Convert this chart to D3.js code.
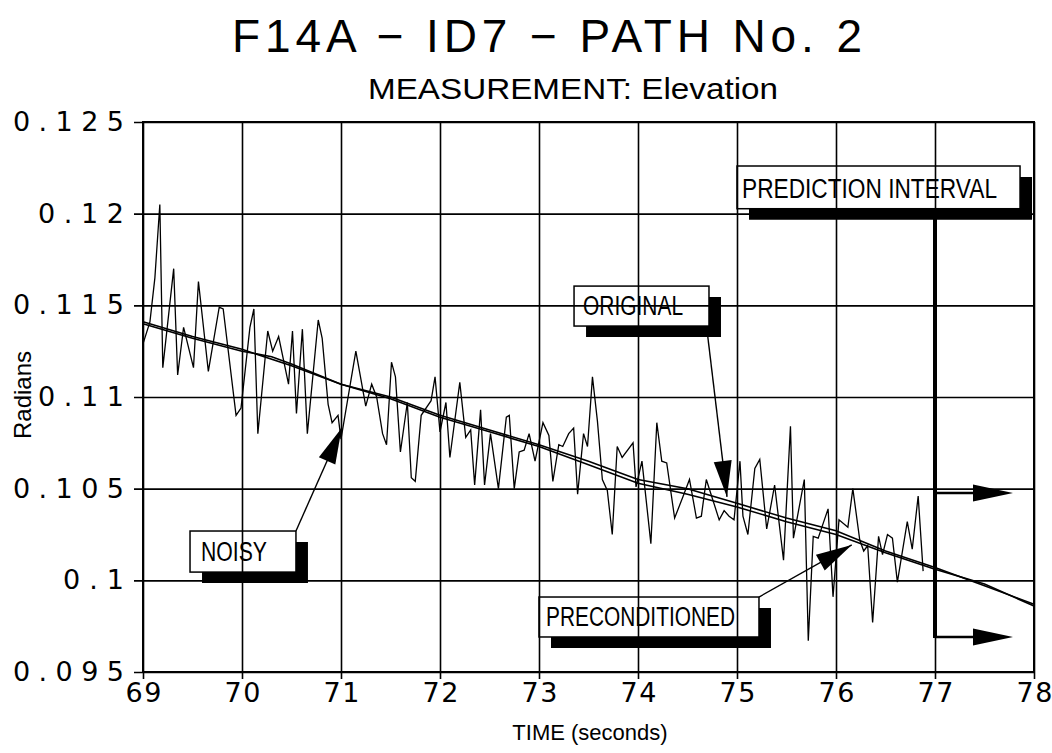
<!DOCTYPE html>
<html><head><meta charset="utf-8">
<script src="https://cdn.jsdelivr.net/npm/d3@7"></script>
<style>body{margin:0;background:#fff} svg{display:block}</style>
</head><body>
<script>
// ---------------- data ----------------
const titleText = "F14A \u2212 ID7 \u2212 PATH No. 2";
const subtitleText = "MEASUREMENT: Elevation";
const xLabelText = "TIME (seconds)";
const yLabelText = "Radians";

const xTicks = [69,70,71,72,73,74,75,76,77,78];
const yTicks = [0.095,0.1,0.105,0.11,0.115,0.12,0.125];
const yTickLabels = ["0.095","0.1","0.105","0.11","0.115","0.12","0.125"];

const noisyTime = [69.00,69.07,69.12,69.17,69.20,69.31,69.35,69.41,69.51,69.56,69.66,69.77,69.81,69.94,69.99,
70.08,70.12,70.16,70.26,70.31,70.37,70.47,70.51,70.55,70.61,70.66,70.77,70.81,70.87,70.91,70.97,
71.00,71.15,71.25,71.31,71.36,71.42,71.46,71.51,71.55,71.60,71.67,71.71,71.75,71.81,71.91,71.95,
72.00,72.06,72.10,72.20,72.26,72.31,72.35,72.41,72.45,72.51,72.59,72.67,72.70,72.75,72.80,72.85,72.90,72.96,
73.04,73.10,73.14,73.20,73.24,73.30,73.35,73.39,73.45,73.49,73.54,73.59,73.64,73.69,73.74,73.79,73.84,73.95,73.98,
74.04,74.13,74.19,74.24,74.29,74.37,74.45,74.52,74.59,74.64,74.69,74.82,74.87,74.92,74.97,
75.03,75.06,75.11,75.18,75.23,75.30,75.38,75.47,75.54,75.57,75.68,75.72,75.77,75.82,75.92,75.97,
76.03,76.12,76.17,76.24,76.28,76.32,76.37,76.43,76.47,76.52,76.57,76.62,76.72,76.77,76.83,76.88];
const noisyValue = [0.1129,0.1141,0.1165,0.1205,0.1116,0.1170,0.1112,0.1138,0.1116,0.1163,0.1114,0.1149,0.1148,0.1090,0.1094,
0.1138,0.1148,0.1080,0.1136,0.1125,0.1133,0.1107,0.1136,0.1091,0.1137,0.1080,0.1142,0.1132,0.1096,0.1086,0.1090,
0.1077,0.1125,0.1095,0.1107,0.1100,0.1080,0.1074,0.1119,0.1111,0.1070,0.1097,0.1056,0.1054,0.1090,0.1098,0.1111,
0.1081,0.1097,0.1067,0.1108,0.1078,0.1082,0.1052,0.1093,0.1052,0.1080,0.1050,0.1089,0.1090,0.1050,0.1070,0.1071,0.1080,0.1065,
0.1086,0.1079,0.1054,0.1074,0.1073,0.1080,0.1083,0.1047,0.1080,0.1073,0.1111,0.1087,0.1055,0.1049,0.1025,0.1073,0.1067,0.1075,0.1051,
0.1065,0.1020,0.1086,0.1065,0.1064,0.1034,0.1045,0.1055,0.1034,0.1035,0.1055,0.1033,0.1038,0.1035,0.1033,
0.1065,0.1035,0.1025,0.1061,0.1066,0.1028,0.1052,0.1011,0.1084,0.1023,0.1055,0.0967,0.1024,0.1023,0.1039,0.0991,
0.1033,0.1029,0.1050,0.1022,0.1016,0.1019,0.0977,0.1024,0.1014,0.1025,0.1023,0.0999,0.1032,0.1017,0.1046,0.1005];

const originalTime  = [69.0,69.5,70.0,70.5,71.0,71.5,72.0,72.5,73.0,73.5,74.0,74.5,75.0,75.5,76.0,76.5,77.0,77.5,78.0];
const originalValue = [0.1141,0.1133,0.1126,0.1117,0.1107,0.1100,0.1090,0.1082,0.1074,0.1065,0.1055,0.1050,0.1042,0.1034,0.1027,0.1016,0.1007,0.0997,0.0987];
const precondTime  = [69.0,69.5,70.0,70.3,70.5,71.0,71.5,72.0,72.5,73.0,73.5,74.0,74.5,75.0,75.5,76.0,76.5,77.0,77.5,78.0];
const precondValue = [0.1140,0.1132,0.1125,0.1122,0.1118,0.1107,0.1099,0.1089,0.1081,0.1073,0.1063,0.1053,0.1047,0.1040,0.1032,0.1025,0.1015,0.1006,0.0998,0.0986];

// annotation boxes (data units) and arrows
const boxLabels = ["NOISY","ORIGINAL","PRECONDITIONED","PREDICTION INTERVAL"];
const boxT0 = [69.475,73.354,73.0,75.0];
const boxT1 = [70.545,74.717,75.222,77.859];
const boxVTop = [0.10269,0.11605,0.09909,0.1226];
const boxVBot = [0.10045,0.11387,0.09691,0.12027];
const arrowFromT = [70.545,74.697,75.222];
const arrowFromV = [0.10269,0.11365,0.09909];
const arrowToT = [71.007,74.899,76.159];
const arrowToV = [0.10831,0.10455,0.10193];
const predLineT = 77;
const predTopV = 0.11976, predArrowV1 = 0.10476, predArrowV2 = 0.09691, predArrowTipT = 77.788;

// ---------------- layout ----------------
const W = 1052, H = 753;
const x = d3.scaleLinear().domain([69,78]).range([143,1034]);
const y = d3.scaleLinear().domain([0.095,0.125]).range([672,122]);
const FONT = "'Liberation Sans', Arial, sans-serif";
const TICKFONT = "'DejaVu Sans', sans-serif";

const svg = d3.select("body").append("svg").attr("width",W).attr("height",H)
  .style("font-family",FONT);

// grid + axes
const gx = svg.append("g").attr("transform",`translate(0,${y(0.095)})`)
  .call(d3.axisBottom(x).tickValues(xTicks).tickSize(-(y(0.095)-y(0.125))).tickFormat(d3.format("d")).tickPadding(4));
gx.select(".domain").remove();
gx.selectAll(".tick line").attr("y1",7).attr("stroke","#000").attr("stroke-width",1.6);
gx.selectAll(".tick text").attr("font-size",27).attr("fill","#000").attr("font-family",TICKFONT)
  .attr("dy","0.95em").attr("textLength",36).attr("lengthAdjust","spacing");

const gy = svg.append("g").attr("transform",`translate(${x(69)},0)`)
  .call(d3.axisLeft(y).tickValues(yTicks).tickSize(-(x(78)-x(69))).tickFormat((d,i)=>yTickLabels[i]).tickPadding(19));
gy.select(".domain").remove();
gy.selectAll(".tick line").attr("x1",-9).attr("stroke","#000").attr("stroke-width",1.6);
gy.selectAll(".tick text").attr("font-size",27).attr("fill","#000").attr("font-family",TICKFONT)
  .attr("textLength",(d,i)=>25*yTickLabels[i].length-14).attr("lengthAdjust","spacing");

// heavier frame edges
svg.append("rect").attr("x",x(69)).attr("y",y(0.125)).attr("width",x(78)-x(69)).attr("height",y(0.095)-y(0.125))
  .attr("fill","none").attr("stroke","#000").attr("stroke-width",2);

// lines
const line = d3.line().x(d=>x(d[0])).y(d=>y(d[1]));
svg.append("path").datum(noisyTime.map((t,i)=>[t,noisyValue[i]])).attr("d",line)
  .attr("fill","none").attr("stroke","#000").attr("stroke-width",1.3).attr("stroke-linejoin","miter");
svg.append("path").datum(originalTime.map((t,i)=>[t,originalValue[i]])).attr("d",line)
  .attr("fill","none").attr("stroke","#000").attr("stroke-width",1.6);
svg.append("path").datum(precondTime.map((t,i)=>[t,precondValue[i]])).attr("d",line)
  .attr("fill","none").attr("stroke","#000").attr("stroke-width",1.6);

// arrowhead helper
function arrowHead(g, x0,y0,x1,y1,L,w){
  const dx=x1-x0, dy=y1-y0, len=Math.hypot(dx,dy), ux=dx/len, uy=dy/len;
  const bx=x1-ux*L, by=y1-uy*L;
  g.append("path").attr("d",`M${x1},${y1}L${bx-uy*w},${by+ux*w}L${bx+uy*w},${by-ux*w}Z`).attr("fill","#000");
}

// annotation boxes
const ann = svg.append("g");
const sdx=12, sdy=11;
boxLabels.forEach((lab,i)=>{
  const x0=x(boxT0[i]), x1=x(boxT1[i]), y0=y(boxVTop[i]), y1=y(boxVBot[i]);
  ann.append("path").attr("d",`M${x1},${y0+sdy}L${x1+sdx},${y0+sdy}L${x1+sdx},${y1+sdy}L${x0+sdx},${y1+sdy}L${x0+sdx},${y1}L${x1},${y1}Z`).attr("fill","#000");
  ann.append("rect").attr("x",x0).attr("y",y0).attr("width",x1-x0).attr("height",y1-y0)
    .attr("fill","none").attr("stroke","#000").attr("stroke-width",1.5);
});
const textPad=[11,9,7,5], textLen=[66,100,189,255];
boxLabels.forEach((lab,i)=>{
  const x0=x(boxT0[i]), y1=y(boxVBot[i]);
  ann.append("text").attr("x",x0+textPad[i]).attr("y",y1-11).text(lab)
    .attr("font-size",27).attr("textLength",textLen[i]).attr("lengthAdjust","spacingAndGlyphs");
});
// arrows from boxes
arrowFromT.forEach((t,i)=>{
  const x0=x(t), y0=y(arrowFromV[i]), x1=x(arrowToT[i]), y1=y(arrowToV[i]);
  ann.append("line").attr("x1",x0).attr("y1",y0).attr("x2",x1).attr("y2",y1).attr("stroke","#000").attr("stroke-width",1.4);
  arrowHead(ann,x0,y0,x1,y1,36,9);
});
// prediction interval bracket
const px=x(predLineT);
ann.append("line").attr("x1",px).attr("x2",px).attr("y1",y(predTopV)).attr("y2",y(predArrowV2)+1).attr("stroke","#000").attr("stroke-width",4);
[predArrowV1,predArrowV2].forEach(v=>{
  ann.append("line").attr("x1",px).attr("x2",x(predArrowTipT)-10).attr("y1",y(v)).attr("y2",y(v)).attr("stroke","#000").attr("stroke-width",2.5);
  arrowHead(ann,px,y(v),x(predArrowTipT),y(v),40,8.5);
});

// titles
svg.append("text").attr("x",232).attr("y",52).text(titleText).attr("font-size",46)
  .attr("textLength",630).attr("lengthAdjust","spacing");
svg.append("text").attr("x",368).attr("y",99).text(subtitleText).attr("font-size",29)
  .attr("textLength",410).attr("lengthAdjust","spacingAndGlyphs");
svg.append("text").attr("x",590).attr("y",740).attr("text-anchor","middle").text(xLabelText).attr("font-size",22);
svg.append("text").attr("transform","translate(31,395) rotate(-90)").attr("text-anchor","middle").text(yLabelText).attr("font-size",24);
</script>
</body></html>
